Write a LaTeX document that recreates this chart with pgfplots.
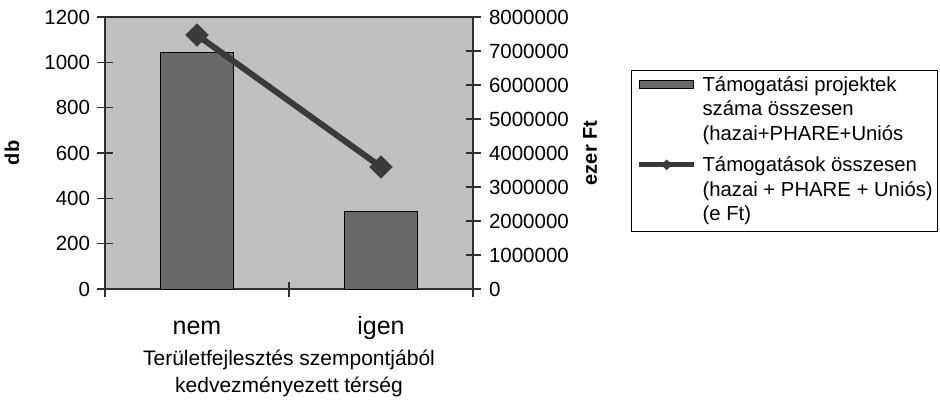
\documentclass[border=0pt]{standalone}
\usepackage{fontspec}
\setmainfont{Liberation Sans}
\usepackage{pgfplots}
\pgfplotsset{compat=1.18}
\definecolor{bg}{HTML}{C0C0C0}
\definecolor{barc}{HTML}{696969}
\definecolor{linec}{HTML}{3A3A3A}
\definecolor{axc}{HTML}{303030}
\begin{document}
\begin{tikzpicture}
\path[use as bounding box] (0pt,0pt) rectangle (940pt,405pt);
\begin{axis}[
  at={(105pt,116pt)}, anchor=south west,
  scale only axis, width=368pt, height=272pt,
  xmin=-0.5, xmax=1.5, ymin=0, ymax=1200,
  xtick={-0.5,0.5,1.5}, xticklabels={},
  extra x ticks={0,1}, extra x tick labels={nem,igen},
  extra x tick style={major tick length=0pt,
    tick label style={font=\fontsize{25}{30}\selectfont, anchor=base, yshift=-45pt}},
  ytick={0,200,400,600,800,1000,1200},
  yticklabel style={xshift=-4pt, /pgf/number format/fixed, /pgf/number format/precision=0, /pgf/number format/1000 sep={}},
  tick align=center, major tick length=15pt,
  xtick pos=left, ytick pos=left,
  axis background/.style={fill=bg},
  axis line style={axc, line width=1.2pt},
  every tick/.style={axc, line width=1.2pt},
  tick label style={font=\fontsize{20.5}{24}\selectfont},
  /pgf/number format/assume math mode=true,
  ylabel={\textbf{db}},
  ylabel style={at={(axis description cs:-0.253,0.5)}, anchor=center, font=\fontsize{20}{24}\selectfont},
  xlabel={Területfejlesztés szempontjából\\kedvezményezett térség},
  xlabel style={at={(axis description cs:0.5,-0.212)}, anchor=north, align=center, font=\fontsize{21}{26.5}\selectfont},
]
\addplot[ybar, bar width=0.4, fill=barc, draw=black, line width=0.9pt] coordinates {(0,1042) (1,344)};
\end{axis}
\begin{axis}[
  at={(105pt,116pt)}, anchor=south west,
  scale only axis, width=368pt, height=272pt,
  xmin=-0.5, xmax=1.5, ymin=0, ymax=8000000,
  axis x line=none, axis y line*=right,
  ytick={0,1000000,2000000,3000000,4000000,5000000,6000000,7000000,8000000},
  scaled y ticks=false,
  yticklabel style={xshift=5pt, /pgf/number format/fixed, /pgf/number format/precision=0, /pgf/number format/1000 sep={}},
  tick align=center, major tick length=15pt,
  axis line style={axc, line width=1.2pt},
  every tick/.style={axc, line width=1.2pt},
  tick label style={font=\fontsize{20.5}{24}\selectfont},
  /pgf/number format/assume math mode=true,
  ylabel={\textbf{ezer Ft}},
  ylabel style={at={(axis description cs:1.318,0.5)}, anchor=center, font=\fontsize{20}{24}\selectfont},
  legend cell align=left,
  legend style={at={(axis description cs:1.4293,0.806)}, anchor=north west,
    draw=black, line width=1.2pt, inner xsep=5pt, inner ysep=6pt,
    font=\fontsize{20.3}{25}\selectfont,
    nodes={inner sep=0pt, text height=15pt, text depth=5pt, anchor=base west},
    column sep=6pt, row sep=4.5pt},
]
\addlegendimage{legend image code/.code={\draw[fill=barc,draw=black,line width=0.9pt] (0pt,3pt) rectangle (54pt,11pt);}}
\addlegendentry{Támogatási projektek}
\addlegendimage{empty legend}\addlegendentry{száma összesen}
\addlegendimage{empty legend}\addlegendentry[text depth=12pt]{(hazai+PHARE+Uniós}
\addplot[linec, line width=6pt, mark=square*, mark size=8pt,
  mark options={rotate=45, line width=0.5pt},
  legend image code/.code={\draw[linec, line width=5pt, mark=square*, mark size=3.5pt, mark options={rotate=45,line width=0.5pt}, mark repeat=2, mark phase=2] plot coordinates {(0pt,7pt) (27.5pt,7pt) (55pt,7pt)};}]
  coordinates {(0,7470000) (1,3590000)};
\addlegendentry{Támogatások összesen}
\addlegendimage{empty legend}\addlegendentry{(hazai + PHARE + Uniós)}
\addlegendimage{empty legend}\addlegendentry{(e Ft)}
\end{axis}
\end{tikzpicture}
\end{document}
